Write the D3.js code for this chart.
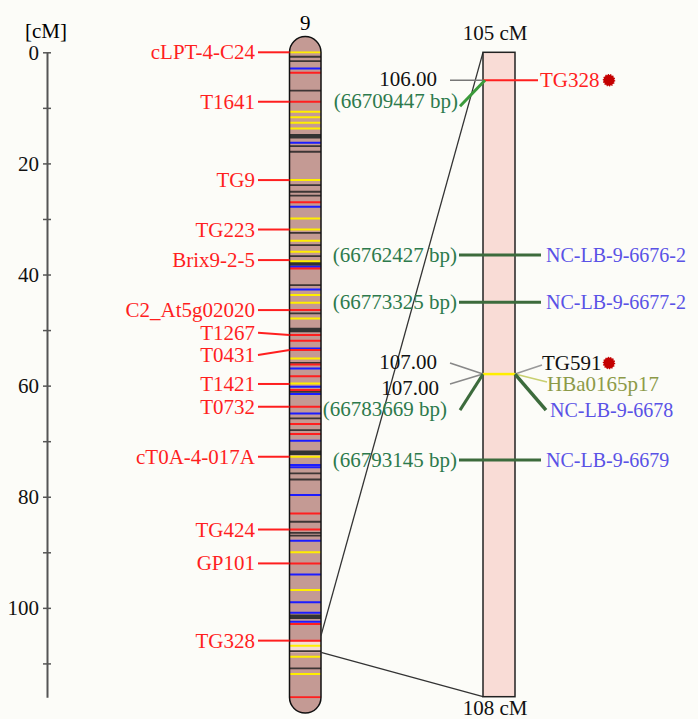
<!DOCTYPE html>
<html>
<head>
<meta charset="utf-8">
<script src="https://cdn.jsdelivr.net/npm/d3@7/dist/d3.min.js"></script>
<style>
  body { margin: 0; background: #fcfcf8; }
  svg { display: block; font-family: 'Liberation Serif', 'Times New Roman', serif; }
</style>
</head>
<body>
<div id="chart"></div>
<script>
const WIDTH = 698;
const HEIGHT = 719;

// genetic map of chromosome 9 (cM)
const CHROM_NAME = '9';
const CHROM_LENGTH = 116.1;
const axisTicks = [0, 10, 20, 30, 40, 50, 60, 70, 80, 90, 100, 110];
const axisLabels = [0, 20, 40, 60, 80, 100];

// bands painted on the chromosome, grouped by colour (cM)
const yellowBands = [0, 10.7, 11.7, 12.7, 13.7, 23.0, 29.9, 31.9, 33.9, 35.9, 37.6, 43.7, 45.1,
  47.9, 55.1, 59.6, 72.8, 90.0, 96.8, 106.8, 108.8, 111.9];
const blueBands = [2.9, 16.3, 27.8, 38.6, 42.7, 53.3, 56.9, 60.2, 61.5, 65.0, 69.9, 74.3, 74.7,
  79.7, 87.9, 94.0, 99.0, 100.9, 102.5];
const redBands = [3.7, 8.9, 27.0, 38.9, 46.4, 50.9, 51.9, 53.6, 56.2, 58.3, 60.8, 63.8, 66.9,
  68.7, 83.0, 85.9, 92.0, 102.9, 105.9, 116.1];
const darkBands = [0.8, 1.6, 6.9, 16.9, 17.9, 23.9, 25.1, 25.8, 32.5, 34.7, 36.7, 41.9, 47.0,
  55.9, 61.1, 65.9, 68.0, 75.8, 76.9, 84.5, 86.5, 87.0, 107.8, 110.9];
const thickBands = [15.1, 38.0, 50.0, 72.1, 101.6];
const highlight = [106, 108];

// mapped markers
const markerNames = ['cLPT-4-C24', 'T1641', 'TG9', 'TG223', 'Brix9-2-5', 'C2_At5g02020', 'T1267',
  'T0431', 'T1421', 'T0732', 'cT0A-4-017A', 'TG424', 'GP101', 'TG328'];
const markerCM = [0, 8.9, 23.0, 31.9, 37.4, 46.4, 50.9, 53.6, 59.7, 63.8, 72.8, 85.9, 92.0, 105.9];
const markerLabelCM = [0, 8.9, 23.0, 31.9, 37.4, 46.4, 50.5, 54.5, 59.7, 63.8, 72.8, 85.9, 92.0, 105.9];

// zoomed interval (drawing position inside the 105-108 cM window)
const zoomRange = [105, 108];
const zoomEnds = ['105 cM', '108 cM'];
const physNames = ['NC-LB-9-6676-2', 'NC-LB-9-6677-2', 'NC-LB-9-6679'];
const physBp = ['(66762427 bp)', '(66773325 bp)', '(66793145 bp)'];
const physPos = [105.944, 106.164, 106.898];

const tg328Pos = 105.13;
const tg328CM = '106.00';
const tg328Bp = '(66709447 bp)';

const tg591Pos = 106.498;
const tg591CM = ['107.00', '107.00'];
const tg591Names = ['TG591', 'HBa0165p17', 'NC-LB-9-6678'];
const tg591Bp = '(66783669 bp)';

const RED = '#ff1f1f';
const BLUE = '#5a52e6';
const GREEN_TEXT = '#2d7a4c';
const GREEN_LINE = '#3c6b3c';
const FONT = 21;

const svg = d3.select('#chart')
  .append('svg')
  .attr('width', WIDTH)
  .attr('height', HEIGHT);

const y = d3.scaleLinear().domain([0, CHROM_LENGTH]).range([52.3, 697.3]);
const z = d3.scaleLinear().domain(zoomRange).range([52.3, 696.7]);

// the cM axis
const gAxis = svg.append('g')
  .attr('transform', 'translate(47,0)')
  .call(d3.axisLeft(y)
    .tickValues(axisTicks)
    .tickSize(4)
    .tickSizeOuter(0)
    .tickPadding(4)
    .tickFormat(d => (axisLabels.includes(d) ? d : '')));
gAxis.attr('font-family', null);
gAxis.select('.domain').attr('stroke', '#555').attr('stroke-width', 2);
gAxis.selectAll('.tick line').attr('x1', 4).attr('stroke', '#555').attr('stroke-width', 1.5);
gAxis.selectAll('.tick text')
  .attr('font-size', FONT)
  .attr('fill', '#111');

svg.append('text')
  .attr('x', 46).attr('y', 31)
  .attr('text-anchor', 'middle')
  .attr('dominant-baseline', 'central')
  .attr('font-size', FONT)
  .text('[cM]');

// the chromosome
const cx0 = 289.5;
const cw = 31.5;
const cr = cw / 2;
const chromPath = 'M' + cx0 + ',' + y(0) +
  'A' + cr + ',' + cr + ' 0 0 1 ' + (cx0 + cw) + ',' + y(0) +
  'V' + y(CHROM_LENGTH) +
  'A' + cr + ',' + cr + ' 0 0 1 ' + cx0 + ',' + y(CHROM_LENGTH) + 'Z';

svg.append('clipPath').attr('id', 'chromClip')
  .append('rect')
  .attr('x', cx0).attr('y', y(0) - 1)
  .attr('width', cw).attr('height', y(CHROM_LENGTH) - y(0) + 2);

svg.append('path').attr('d', chromPath).attr('fill', '#c49a94');

const gBands = svg.append('g').attr('clip-path', 'url(#chromClip)');
gBands.append('rect')
  .attr('x', cx0).attr('width', cw)
  .attr('y', y(highlight[0]))
  .attr('height', y(highlight[1]) - y(highlight[0]))
  .attr('fill', '#f4dcd4');

const bandSets = [
  { data: darkBands, color: '#3d3535', width: 1.8 },
  { data: thickBands, color: '#333', width: 4.5 },
  { data: yellowBands, color: '#ffee00', width: 2 },
  { data: blueBands, color: '#1c1cff', width: 2 },
  { data: redBands, color: '#ff1f1f', width: 2 }
];
bandSets.forEach(set => {
  gBands.selectAll(null)
    .data(set.data)
    .join('line')
    .attr('x1', cx0).attr('x2', cx0 + cw)
    .attr('y1', d => y(d)).attr('y2', d => y(d))
    .attr('stroke', set.color)
    .attr('stroke-width', set.width);
});

svg.append('path').attr('d', chromPath)
  .attr('fill', 'none').attr('stroke', '#111').attr('stroke-width', 1.5);

svg.append('text')
  .attr('x', cx0 + cr).attr('y', 23)
  .attr('text-anchor', 'middle')
  .attr('dominant-baseline', 'central')
  .attr('font-size', FONT)
  .text(CHROM_NAME);

// marker labels on the left
const gMarkers = svg.append('g');
gMarkers.selectAll('line')
  .data(markerNames)
  .join('line')
  .attr('x1', 258).attr('x2', cx0)
  .attr('y1', (d, i) => y(markerLabelCM[i]))
  .attr('y2', (d, i) => y(markerCM[i]))
  .attr('stroke', RED)
  .attr('stroke-width', 2);
gMarkers.selectAll('text')
  .data(markerNames)
  .join('text')
  .attr('x', 255)
  .attr('y', (d, i) => y(markerLabelCM[i]))
  .attr('text-anchor', 'end')
  .attr('dominant-baseline', 'central')
  .attr('font-size', FONT)
  .attr('fill', RED)
  .text(d => d);

// zoom connectors
const zx0 = 483;
const zw = 32;
svg.selectAll('line.zoom')
  .data(zoomRange)
  .join('line')
  .attr('class', 'zoom')
  .attr('x1', cx0 + cw).attr('y1', d => y(d))
  .attr('x2', zx0).attr('y2', d => z(d))
  .attr('stroke', '#333')
  .attr('stroke-width', 1.3);

// zoomed bar
svg.append('rect')
  .attr('x', zx0).attr('y', z(zoomRange[0]))
  .attr('width', zw).attr('height', z(zoomRange[1]) - z(zoomRange[0]))
  .attr('fill', '#f9dcd6')
  .attr('stroke', '#222')
  .attr('stroke-width', 1.5);

svg.selectAll('text.zoomEnd')
  .data(zoomEnds)
  .join('text')
  .attr('class', 'zoomEnd')
  .attr('x', zx0 + zw / 2 - 4)
  .attr('y', (d, i) => (i === 0 ? z(zoomRange[0]) - 19 : z(zoomRange[1]) + 11))
  .attr('text-anchor', 'middle')
  .attr('dominant-baseline', 'central')
  .attr('font-size', FONT)
  .attr('fill', '#111')
  .text(d => d);

const zx1 = zx0 + zw;

function label(x, yy, text, color, anchor, size) {
  svg.append('text')
    .attr('x', x).attr('y', yy)
    .attr('text-anchor', anchor)
    .attr('dominant-baseline', 'central')
    .attr('font-size', size || FONT)
    .attr('fill', color)
    .text(text);
}

function seg(x1, y1, x2, y2, color, width) {
  svg.append('line')
    .attr('x1', x1).attr('y1', y1)
    .attr('x2', x2).attr('y2', y2)
    .attr('stroke', color)
    .attr('stroke-width', width);
}

function redDot(x, yy) {
  svg.append('circle')
    .attr('cx', x).attr('cy', yy).attr('r', 5.5)
    .attr('fill', '#c40000')
    .attr('stroke', '#c40000')
    .attr('stroke-width', 1.5)
    .attr('stroke-dasharray', '1.2,1.2');
}

// physical markers with straight connectors
physNames.forEach((name, i) => {
  const yy = z(physPos[i]);
  seg(459, yy, 541, yy, GREEN_LINE, 3);
  label(457, yy, physBp[i], GREEN_TEXT, 'end');
  label(546, yy, name, BLUE, 'start', 20);
});

// TG328 anchor
{
  const yy = z(tg328Pos);
  seg(450, yy, zx0, yy, '#777', 1.5);
  label(437, yy - 1, tg328CM, '#111', 'end');
  seg(zx0, yy, 538, yy, RED, 2);
  label(540, yy, 'TG328', RED, 'start');
  redDot(609, yy);
  seg(zx0 + 2, yy, 460, yy + 26, '#3a9a3a', 3);
  label(458, yy + 21, tg328Bp, GREEN_TEXT, 'end');
}

// TG591 anchor
{
  const yy = z(tg591Pos);
  seg(zx0, yy, zx1, yy, '#ffee00', 2.5);
  seg(zx0, yy, 450, yy - 11, '#888', 1.5);
  seg(zx0, yy, 450, yy + 10, '#888', 1.5);
  label(437, yy - 12, tg591CM[0], '#111', 'end');
  label(439, yy + 14, tg591CM[1], '#111', 'end');
  seg(zx0, yy, 460, yy + 36, GREEN_LINE, 3);
  label(447, yy + 35, tg591Bp, GREEN_TEXT, 'end');

  seg(zx1, yy, 542, yy - 9, '#999', 1.5);
  label(542, yy - 11, tg591Names[0], '#111', 'start');
  redDot(609, yy - 11);
  seg(zx1, yy, 547, yy + 8, '#c8d070', 1.5);
  label(547, yy + 10, tg591Names[1], '#8c9a48', 'start');
  seg(zx1, yy, 546, yy + 36, GREEN_LINE, 3.5);
  label(550, yy + 36, tg591Names[2], BLUE, 'start', 20);
}
</script>
</body>
</html>
